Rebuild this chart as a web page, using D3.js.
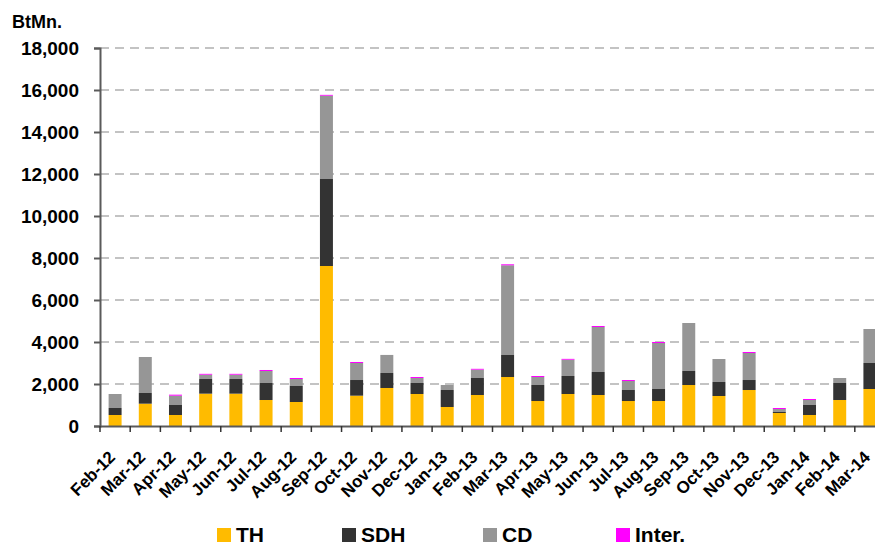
<!DOCTYPE html>
<meta charset="utf-8">
<script src="https://d3js.org/d3.v7.min.js"></script>
<style>
  body { margin: 0; background: #fff; font-family: "Liberation Sans", Arial, sans-serif; }
  .tick-label { font-weight: bold; }
</style>
<div id="chart"></div>
<script>
  // months on the x axis
  var months = ["Feb-12", "Mar-12", "Apr-12", "May-12", "Jun-12", "Jul-12", "Aug-12", "Sep-12",
    "Oct-12", "Nov-12", "Dec-12", "Jan-13", "Feb-13", "Mar-13", "Apr-13", "May-13", "Jun-13",
    "Jul-13", "Aug-13", "Sep-13", "Oct-13", "Nov-13", "Dec-13", "Jan-14", "Feb-14", "Mar-14"];

  // series values (BtMn.)
  var th = [524, 1063, 524, 1540, 1540, 1238, 1143, 7619, 1444, 1810, 1524, 905, 1476,
    2333, 1190, 1524, 1476, 1190, 1190, 1952, 1429, 1714, 619, 524, 1238, 1762];
  var sdh = [333, 508, 476, 698, 698, 810, 762, 4143, 746, 714, 524, 809, 810,
    1048, 762, 857, 1095, 524, 572, 667, 666, 476, 48, 476, 810, 1238];
  var cd = [667, 1715, 444, 206, 206, 571, 333, 3967, 810, 860, 238, 238, 397,
    4271, 381, 776, 2143, 429, 2190, 2286, 1095, 1286, 143, 238, 238, 1619];
  var inter = [0, 0, 48, 40, 40, 48, 48, 40, 48, 0, 47, 0, 40,
    48, 48, 40, 48, 47, 48, 0, 0, 48, 47, 48, 0, 0];

  var yTicks = [0, 2000, 4000, 6000, 8000, 10000, 12000, 14000, 16000, 18000];

  var seriesNames = ["TH", "SDH", "CD", "Inter."];
  var colors = ["#FFBB00", "#333333", "#969696", "#FF00FF"];

  var W = 875, H = 545;
  var x0 = 100, x1 = 885, yBottom = 426, yTop = 48;

  var rows = months.map(function (m, i) {
    return { month: m, "TH": th[i], "SDH": sdh[i], "CD": cd[i], "Inter.": inter[i] };
  });

  var x = d3.scaleBand().domain(months).range([x0, x1]).paddingInner(0.57).paddingOuter(0.285);
  var y = d3.scaleLinear().domain([0, 18000]).range([yBottom, yTop]);
  var color = d3.scaleOrdinal().domain(seriesNames).range(colors);

  var svg = d3.select("#chart").append("svg")
    .attr("width", W)
    .attr("height", H);

  // gridlines
  svg.append("g")
    .selectAll("line")
    .data(yTicks.filter(function (d) { return d > 0; }))
    .enter().append("line")
    .attr("x1", x0).attr("x2", W)
    .attr("y1", function (d) { return y(d); })
    .attr("y2", function (d) { return y(d); })
    .attr("stroke", "#b0b0b0")
    .attr("stroke-width", 1.5)
    .attr("stroke-dasharray", "9,6");

  // stacked bars
  var stacked = d3.stack().keys(seriesNames)(rows);
  svg.append("g")
    .selectAll("g")
    .data(stacked)
    .enter().append("g")
    .attr("fill", function (d) { return color(d.key); })
    .selectAll("rect")
    .data(function (d) { return d; })
    .enter().append("rect")
    .attr("x", function (d) { return x(d.data.month); })
    .attr("width", x.bandwidth())
    .attr("y", function (d) { return y(d[1]); })
    .attr("height", function (d) { return y(d[0]) - y(d[1]); });

  // y axis
  var yAxis = svg.append("g")
    .attr("transform", "translate(" + x0 + ",0)")
    .call(d3.axisLeft(y).tickValues(yTicks).tickSize(6).tickPadding(15)
      .tickFormat(d3.format(",")));
  yAxis.select(".domain").attr("stroke", "#5a5a5a").attr("stroke-width", 2);
  yAxis.selectAll(".tick line").attr("stroke", "#5a5a5a").attr("stroke-width", 2);
  yAxis.selectAll(".tick text")
    .attr("class", "tick-label")
    .style("font-size", "19px")
    .attr("fill", "#000");

  // x axis
  var xAxis = svg.append("g")
    .attr("transform", "translate(0," + yBottom + ")")
    .call(d3.axisBottom(x).tickSize(0).tickSizeOuter(0));
  xAxis.select(".domain").attr("stroke", "#5a5a5a").attr("stroke-width", 2);
  xAxis.selectAll(".tick text")
    .attr("class", "tick-label")
    .style("font-size", "17px")
    .attr("fill", "#000")
    .attr("text-anchor", "end")
    .attr("transform", "translate(-3,28) rotate(-45)")
    .attr("dy", "0.35em")
    .attr("y", 0);

  // boundary ticks between categories
  var step = x.step();
  svg.append("g")
    .selectAll("line")
    .data(d3.range(months.length + 1))
    .enter().append("line")
    .attr("x1", function (i) { return x0 + i * step; })
    .attr("x2", function (i) { return x0 + i * step; })
    .attr("y1", yBottom)
    .attr("y2", yBottom + 6)
    .attr("stroke", "#333")
    .attr("stroke-width", 1.5);

  // unit label
  svg.append("text")
    .attr("x", 12).attr("y", 28)
    .style("font-size", "18px")
    .style("font-weight", "bold")
    .text("BtMn.");

  // legend
  var legendX = [217, 342, 483, 616];
  var legend = svg.append("g").selectAll("g")
    .data(seriesNames)
    .enter().append("g")
    .attr("transform", function (d, i) { return "translate(" + legendX[i] + ",528)"; });
  legend.append("rect")
    .attr("width", 14).attr("height", 14)
    .attr("fill", function (d) { return color(d); });
  legend.append("text")
    .attr("x", 19).attr("y", 14)
    .style("font-size", "21px")
    .style("font-weight", "bold")
    .text(function (d) { return d; });
</script>
